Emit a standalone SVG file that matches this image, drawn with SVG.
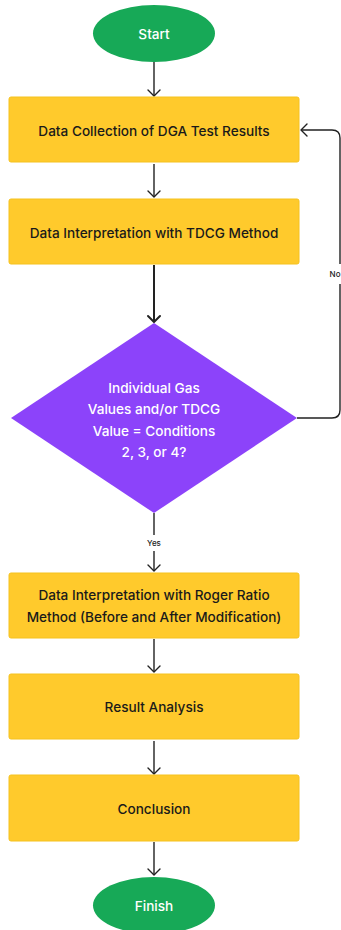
<svg xmlns="http://www.w3.org/2000/svg" width="341" height="930" viewBox="0 0 341 930">
<style>
.box{fill:#FFCA2C;stroke:#F5C21E;stroke-width:1}
.term{fill:#17A957}
.dec{fill:#8C43FA}
.t{font-family:Inter,"Liberation Sans",sans-serif;font-size:13.6px;font-weight:500;text-anchor:middle;fill:#1a1a1a}
.tw{font-family:Inter,"Liberation Sans",sans-serif;font-size:13.6px;font-weight:500;text-anchor:middle;fill:#ffffff}
.lbl{font-family:Inter,"Liberation Sans",sans-serif;font-size:8px;font-weight:500;fill:#222}
.c{fill:none;stroke:#222;stroke-width:1.4}
.ah{fill:none;stroke:#222;stroke-width:1.4;stroke-linecap:round;stroke-linejoin:round}
</style>
<rect width="341" height="930" fill="#ffffff"/>
<g id="connectors">
  <line class="c" x1="154" y1="62" x2="154" y2="96"/>
  <polyline class="ah" points="148,90 154,96 160,90"/>
  <line class="c" x1="154" y1="164" x2="154" y2="197"/>
  <polyline class="ah" points="148,191 154,197 160,191"/>
  <line class="c" x1="154" y1="265" x2="154" y2="322" style="stroke-width:2"/>
  <polyline class="ah" points="148,316 154,322 160,316" style="stroke-width:2"/>
  <line class="c" x1="154" y1="513" x2="154" y2="535"/>
  <line class="c" x1="154" y1="551" x2="154" y2="571"/>
  <polyline class="ah" points="148,565 154,571 160,565"/>
  <text class="lbl" x="154" y="546" text-anchor="middle">Yes</text>
  <line class="c" x1="154" y1="639" x2="154" y2="672"/>
  <polyline class="ah" points="148,666 154,672 160,666"/>
  <line class="c" x1="154" y1="741" x2="154" y2="774"/>
  <polyline class="ah" points="148,768 154,774 160,768"/>
  <line class="c" x1="154" y1="842" x2="154" y2="875"/>
  <polyline class="ah" points="148,869 154,875 160,869"/>
  <path class="c" d="M297,418 H332 Q340,418 340,410 V138 Q340,130 332,130 H301"/>
  <polyline class="ah" points="307,124 301,130 307,136"/>
  <rect x="329" y="264" width="12" height="20" fill="#ffffff"/>
  <text class="lbl" x="340.5" y="277" text-anchor="end">No</text>
</g>
<g id="start">
  <ellipse class="term" cx="154" cy="33.5" rx="61" ry="28.5"/>
  <text class="tw" x="154" y="38.5">Start</text>
</g>
<g id="collect">
  <rect class="box" x="9" y="97" width="290" height="65" rx="2"/>
  <text class="t" x="154" y="135.5">Data Collection of DGA Test Results</text>
</g>
<g id="tdcg">
  <rect class="box" x="9" y="199" width="290" height="65" rx="2"/>
  <text class="t" x="154" y="237.5">Data Interpretation with TDCG Method</text>
</g>
<g id="decision">
  <polygon class="dec" points="154,323 297,418 154,513 11,418"/>
  <text class="tw" x="154" y="392.5">Individual Gas</text>
  <text class="tw" x="154" y="414">Values and/or TDCG</text>
  <text class="tw" x="154" y="435.5">Value = Conditions</text>
  <text class="tw" x="154" y="457">2, 3, or 4?</text>
</g>
<g id="roger">
  <rect class="box" x="9" y="573" width="290" height="65" rx="2"/>
  <text class="t" x="154" y="599.5">Data Interpretation with Roger Ratio</text>
  <text class="t" x="154" y="621.5">Method (Before and After Modification)</text>
</g>
<g id="analysis">
  <rect class="box" x="9" y="674" width="290" height="65" rx="2"/>
  <text class="t" x="154" y="711.5">Result Analysis</text>
</g>
<g id="conclusion">
  <rect class="box" x="9" y="775" width="290" height="66" rx="2"/>
  <text class="t" x="154" y="813.5">Conclusion</text>
</g>
<g id="finish">
  <ellipse class="term" cx="154" cy="905.5" rx="61" ry="28.5"/>
  <text class="tw" x="154" y="910.5">Finish</text>
</g>
</svg>
